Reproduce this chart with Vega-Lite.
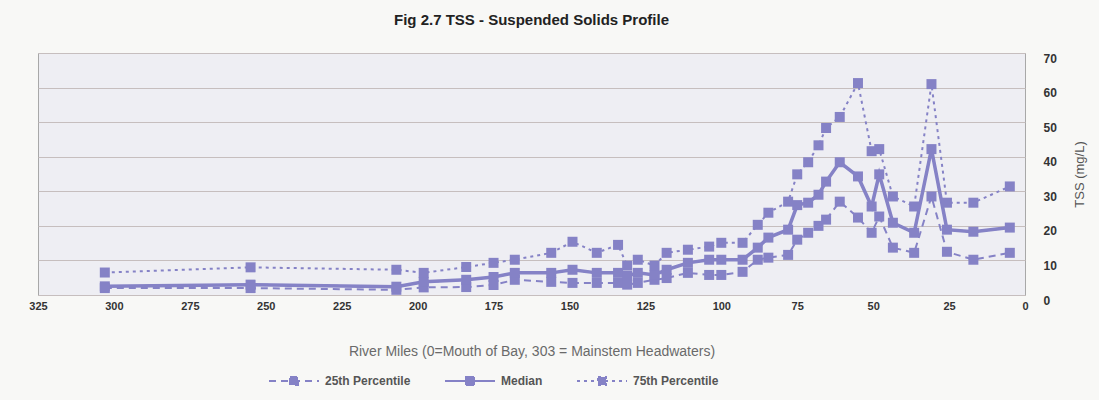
{
  "$schema": "https://vega.github.io/schema/vega-lite/v6.json",
  "width": 987,
  "height": 242,
  "autosize": {"type": "none"},
  "padding": {"left": 38, "top": 53, "right": 74, "bottom": 105},
  "background": "#f8f8f6",
  "title": {
    "text": "Fig 2.7 TSS - Suspended Solids Profile",
    "font": "Liberation Sans",
    "fontSize": 15,
    "fontWeight": "bold",
    "color": "#222222",
    "anchor": "middle",
    "offset": 24
  },
  "config": {
    "view": {"fill": "#eeeef3", "stroke": "#a8a8a8", "strokeWidth": 1}
  },
  "data": {
    "values": [
      {"mile": 303, "25th Percentile": 2.0, "Median": 2.5, "75th Percentile": 6.5},
      {"mile": 255, "25th Percentile": 2.0, "Median": 3.0, "75th Percentile": 8.0},
      {"mile": 207, "25th Percentile": 1.5, "Median": 2.4, "75th Percentile": 7.3},
      {"mile": 198, "25th Percentile": 2.2, "Median": 3.8, "75th Percentile": 6.4},
      {"mile": 184, "25th Percentile": 2.3, "Median": 4.4, "75th Percentile": 8.1},
      {"mile": 175, "25th Percentile": 2.9, "Median": 5.2, "75th Percentile": 9.3},
      {"mile": 168, "25th Percentile": 4.4, "Median": 6.4, "75th Percentile": 10.2},
      {"mile": 156, "25th Percentile": 3.8, "Median": 6.4, "75th Percentile": 12.2},
      {"mile": 149, "25th Percentile": 3.5, "Median": 7.3, "75th Percentile": 15.4},
      {"mile": 141, "25th Percentile": 3.5, "Median": 6.4, "75th Percentile": 12.2},
      {"mile": 134, "25th Percentile": 3.5, "Median": 6.4, "75th Percentile": 14.5},
      {"mile": 131, "25th Percentile": 3.0, "Median": 5.5, "75th Percentile": 8.5},
      {"mile": 127.5, "25th Percentile": 3.5, "Median": 6.4, "75th Percentile": 10.2},
      {"mile": 122, "25th Percentile": 4.4, "Median": 5.8, "75th Percentile": 8.5},
      {"mile": 118, "25th Percentile": 4.9, "Median": 7.3, "75th Percentile": 12.2},
      {"mile": 111, "25th Percentile": 6.4, "Median": 9.3, "75th Percentile": 13.1},
      {"mile": 104, "25th Percentile": 5.8, "Median": 10.2, "75th Percentile": 14.0},
      {"mile": 100, "25th Percentile": 5.8, "Median": 10.2, "75th Percentile": 15.1},
      {"mile": 93, "25th Percentile": 6.7, "Median": 10.2, "75th Percentile": 15.1},
      {"mile": 88, "25th Percentile": 10.2, "Median": 13.7, "75th Percentile": 20.3},
      {"mile": 84.5, "25th Percentile": 10.8, "Median": 16.6, "75th Percentile": 23.8},
      {"mile": 78, "25th Percentile": 11.6, "Median": 18.9, "75th Percentile": 27.0},
      {"mile": 75, "25th Percentile": 16.0, "Median": 26.0, "75th Percentile": 34.9},
      {"mile": 71.4, "25th Percentile": 18.0, "Median": 26.7, "75th Percentile": 38.4},
      {"mile": 68, "25th Percentile": 20.0, "Median": 29.0, "75th Percentile": 43.3},
      {"mile": 65.5, "25th Percentile": 21.8, "Median": 32.8, "75th Percentile": 48.3},
      {"mile": 61, "25th Percentile": 27.0, "Median": 38.4, "75th Percentile": 51.5},
      {"mile": 55, "25th Percentile": 22.4, "Median": 34.3, "75th Percentile": 61.3},
      {"mile": 50.5, "25th Percentile": 18.0, "Median": 25.6, "75th Percentile": 41.6},
      {"mile": 48, "25th Percentile": 22.7, "Median": 34.9, "75th Percentile": 42.2},
      {"mile": 43.5, "25th Percentile": 13.7, "Median": 20.9, "75th Percentile": 28.5},
      {"mile": 36.5, "25th Percentile": 12.2, "Median": 18.0, "75th Percentile": 25.6},
      {"mile": 30.8, "25th Percentile": 28.5, "Median": 42.2, "75th Percentile": 61.0},
      {"mile": 25.7, "25th Percentile": 12.5, "Median": 18.9, "75th Percentile": 26.7},
      {"mile": 17, "25th Percentile": 10.2, "Median": 18.3, "75th Percentile": 26.7},
      {"mile": 5, "25th Percentile": 12.2, "Median": 19.5, "75th Percentile": 31.4}
    ]
  },
  "transform": [
    {"fold": ["25th Percentile", "Median", "75th Percentile"], "as": ["series", "tss"]}
  ],
  "encoding": {
    "x": {
      "field": "mile",
      "type": "quantitative",
      "scale": {"domain": [0, 325], "reverse": true, "nice": false, "zero": false},
      "axis": {
        "values": [0, 25, 50, 75, 100, 125, 150, 175, 200, 225, 250, 275, 300, 325],
        "grid": false,
        "ticks": false,
        "domain": false,
        "labelFlush": false,
        "labelOverlap": false,
        "labelFont": "Liberation Sans",
        "labelFontSize": 11,
        "labelFontWeight": "bold",
        "labelColor": "#333333",
        "labelPadding": 5,
        "title": "River Miles (0=Mouth of Bay, 303 = Mainstem Headwaters)",
        "titleFont": "Liberation Sans",
        "titleFontSize": 14,
        "titleFontWeight": "normal",
        "titleColor": "#6a6a6a",
        "titlePadding": 33
      }
    },
    "y": {
      "field": "tss",
      "type": "quantitative",
      "scale": {"domain": [0, 70], "nice": false},
      "axis": {
        "orient": "right",
        "values": [0, 10, 20, 30, 40, 50, 60, 70],
        "grid": true,
        "gridColor": "#c6bebe",
        "gridWidth": 1,
        "ticks": false,
        "domain": false,
        "labelAlign": "left",
        "labelPadding": 18,
        "labelOffset": 5,
        "labelFont": "Liberation Sans",
        "labelFontSize": 12,
        "labelFontWeight": "bold",
        "labelColor": "#333333",
        "title": "TSS (mg/L)",
        "titleAngle": 270,
        "titleFont": "Liberation Sans",
        "titleFontSize": 13,
        "titleFontWeight": "normal",
        "titleColor": "#555555",
        "titlePadding": 30
      }
    }
  },
  "layer": [
    {
      "mark": {"type": "line", "color": "#8582c6", "strokeWidth": 2},
      "encoding": {
        "strokeDash": {
          "field": "series",
          "type": "nominal",
          "scale": {
            "domain": ["25th Percentile", "Median", "75th Percentile"],
            "range": [[7, 5], [1, 0], [3, 4]]
          },
          "legend": {
            "title": null,
            "orient": "none",
            "direction": "horizontal",
            "legendX": 230,
            "legendY": 302,
            "symbolType": "M-1,0H1M-0.16,-0.16H0.16V0.16H-0.16Z",
            "symbolSize": 2500,
            "symbolStrokeColor": "#8582c6",
            "symbolFillColor": "#8582c6",
            "symbolStrokeWidth": 2,
            "symbolOpacity": 1,
            "labelFont": "Liberation Sans",
            "labelFontSize": 12,
            "labelFontWeight": "bold",
            "labelColor": "#555555",
            "labelOffset": 5,
            "columnPadding": 30
          }
        }
      }
    },
    {
      "transform": [{"filter": {"field": "series", "equal": "Median"}}],
      "mark": {"type": "line", "color": "#8582c6", "strokeWidth": 3.5},
      "encoding": {}
    },
    {
      "mark": {"type": "point", "shape": "square", "size": 100, "filled": true, "color": "#8582c6", "opacity": 1},
      "encoding": {}
    }
  ]
}
